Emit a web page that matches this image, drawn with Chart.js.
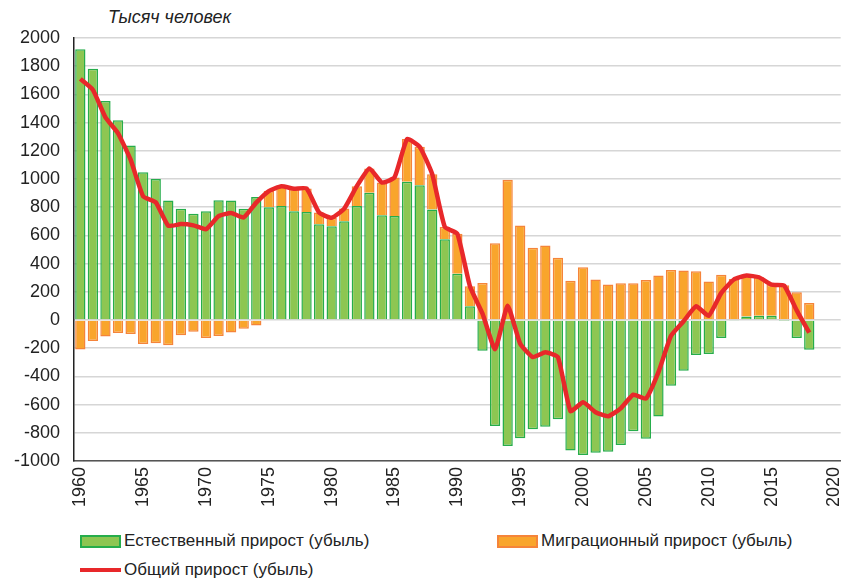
<!DOCTYPE html>
<html>
<head>
<meta charset="utf-8">
<script src="https://cdn.jsdelivr.net/npm/chart.js@4.4.1/dist/chart.umd.min.js"></script>
<style>
    body { margin: 0; background: #fff; font-family: "Liberation Sans", Arial, sans-serif; }
    .wrap { position: relative; width: 842px; height: 580px; overflow: hidden; }
    .chart-box { position: absolute; left: 0; top: 0; width: 862px; height: 513px; }
    .unit { position: absolute; left: 108px; top: 7px; font-size: 18px; font-style: italic; color: #222; }
    .legend-item { position: absolute; font-size: 17px; color: #222; display: flex; align-items: center; }
    .legend-item .box { width: 37px; height: 9px; margin-right: 3px; border-width: 2px; border-style: solid; }
    .legend-item .ln { width: 41px; height: 4px; margin-right: 3px; }
</style>
</head>
<body>
<div class="wrap">
    <div class="unit">Тысяч человек</div>
    <div class="chart-box">
        <canvas id="popChart"></canvas>
    </div>
    <div id="legend"></div>
</div>

<script>
    // годы 1960-2020, данные по 2018
    const years = [];
    for (let y = 1960; y <= 2020; y++) years.push(y);

    const seriesNames = ['Естественный прирост (убыль)', 'Миграционный прирост (убыль)', 'Общий прирост (убыль)'];

    const naturalGrowth = [
        1920, 1782, 1554, 1417, 1237, 1047, 1000, 848, 789, 754,
        772, 850, 847, 789, 872, 800, 808, 772, 766, 679,
        665, 700, 809, 902, 743, 738, 980, 956, 783, 572,
        327, 97, -218, -752, -894, -839, -775, -757, -704, -925,
        -958, -941, -934, -887, -790, -842, -685, -467, -360, -249,
        -242, -128, -4, 24, 30, 30, -2, -128, -211
    ];

    const migrationGrowth = [
        -210, -150, -117, -93, -100, -170, -165, -180, -109, -83,
        -128, -114, -88, -62, -40, 114, 140, 159, 167, 83,
        60, 90, 140, 173, 232, 273, 303, 273, 251, 88,
        284, 142, 263, 545, 995, 670, 512, 528, 441, 279,
        374, 287, 251, 260, 260, 284, 315, 355, 351, 346,
        272, 320, 291, 291, 273, 220, 246, 196, 121
    ];

    const totalGrowth = [
        1710, 1632, 1437, 1324, 1137, 877, 835, 668, 680, 671,
        644, 736, 759, 727, 832, 914, 948, 931, 933, 762,
        725, 790, 949, 1075, 975, 1011, 1283, 1229, 1034, 660,
        611, 239, 45, -207, 101, -169, -263, -229, -263, -646,
        -584, -654, -683, -627, -530, -558, -370, -112, -9, 97,
        30, 192, 287, 315, 303, 250, 244, 68, -90
    ];

    const green = '#8dc652', greenBorder = '#26ad4b';
    const orange = '#f9a52c', orangeBorder = '#f5843a';
    const red = '#e8282a';

    document.addEventListener('DOMContentLoaded', function () {
        const ctx = document.getElementById('popChart').getContext('2d');
        new Chart(ctx, {
            type: 'bar',
            data: {
                labels: years,
                datasets: [
                    {
                        type: 'line',
                        label: seriesNames[2],
                        data: totalGrowth,
                        stack: 'total',
                        borderColor: red,
                        backgroundColor: red,
                        borderWidth: 4.5,
                        pointRadius: 0,
                        tension: 0.15,
                        order: 0
                    },
                    {
                        label: seriesNames[0],
                        data: naturalGrowth,
                        stack: 'parts',
                        backgroundColor: green,
                        borderColor: greenBorder,
                        borderWidth: 1.5,
                        barPercentage: 0.82,
                        categoryPercentage: 1,
                        order: 1
                    },
                    {
                        label: seriesNames[1],
                        data: migrationGrowth,
                        stack: 'parts',
                        backgroundColor: orange,
                        borderColor: orangeBorder,
                        borderWidth: 1.5,
                        barPercentage: 0.82,
                        categoryPercentage: 1,
                        order: 1
                    }
                ]
            },
            options: {
                responsive: true,
                maintainAspectRatio: false,
                animation: false,
                layout: {
                    padding: { top: 38, right: 0, left: 0, bottom: 0 }
                },
                scales: {
                    x: {
                        stacked: true,
                        grid: { display: false, drawTicks: false },
                        border: { color: '#555', width: 1.5 },
                        ticks: {
                            autoSkip: false,
                            minRotation: 90,
                            maxRotation: 90,
                            padding: 6,
                            color: '#222',
                            font: { family: '"Liberation Sans", Arial, sans-serif', size: 18 },
                            callback: function (value, index) {
                                const y = years[index];
                                return y % 5 === 0 ? String(y) : '';
                            }
                        }
                    },
                    y: {
                        stacked: true,
                        min: -1000,
                        max: 2000,
                        grid: { color: '#d6d6d6', lineWidth: 1.5, drawTicks: false },
                        border: { color: '#222', width: 1.5 },
                        ticks: {
                            stepSize: 200,
                            padding: 14,
                            color: '#222',
                            font: { family: '"Liberation Sans", Arial, sans-serif', size: 18 },
                            callback: function (value) { return String(value); }
                        }
                    }
                },
                plugins: {
                    legend: { display: false },
                    tooltip: { enabled: false }
                }
            }
        });

        // легенда как в оригинале: два элемента в первой строке, один во второй
        const legend = document.getElementById('legend');
        const items = [
            { text: seriesNames[0], left: 80, top: 531, kind: 'box', fill: green, border: greenBorder },
            { text: seriesNames[1], left: 497, top: 531, kind: 'box', fill: orange, border: orangeBorder },
            { text: seriesNames[2], left: 80, top: 560, kind: 'line', fill: red }
        ];
        items.forEach(function (it) {
            const el = document.createElement('div');
            el.className = 'legend-item';
            el.style.left = it.left + 'px';
            el.style.top = it.top + 'px';
            const mark = document.createElement('span');
            if (it.kind === 'box') {
                mark.className = 'box';
                mark.style.background = it.fill;
                mark.style.borderColor = it.border;
            } else {
                mark.className = 'ln';
                mark.style.background = it.fill;
            }
            const label = document.createElement('span');
            label.textContent = it.text;
            el.appendChild(mark);
            el.appendChild(label);
            legend.appendChild(el);
        });
    });
</script>
</body>
</html>
